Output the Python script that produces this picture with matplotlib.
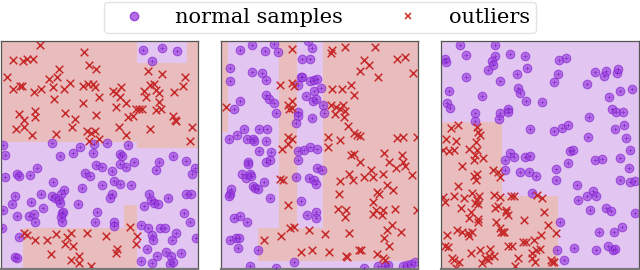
import numpy as np
import matplotlib
matplotlib.use('Agg')
import matplotlib.pyplot as plt
from matplotlib.patches import Rectangle
from matplotlib.lines import Line2D

# coordenadas (unidades arbitrarias, y para baixo)
# painel 1
normais_1 = [(156,310),(240,322),(220,340),(180,350),(282,312),(322,310),(386,316),(278,338),
    (8,314),(16,346),(362,342),(368,350),(402,366),(360,374),(380,382),(288,376),(306,382),(338,394),
    (110,386),(50,402),(58,410),(90,406),(14,412),(256,400),(270,408),(160,428),(308,436),(342,424),
    (360,432),(394,436),(246,444),(192,452),(184,462),(122,464),(46,468),(156,470),(166,476),(176,482),
    (180,490),(234,492),(36,494),(92,486),(128,506),(336,462),(330,474),(448,462),(470,392),(478,368),
    (520,350),(560,364),(586,384),(576,404),(454,482),(464,490),(476,494),(506,474),(432,500),
    (560,462),(574,462),(8,510),(52,530),(88,530),(102,524),(106,546),(186,520),(190,516),(184,532),
    (186,548),(290,516),(286,546),(342,548),(344,558),(552,520),(570,548),(446,564),(424,556),
    (480,566),(496,566),(530,580),(588,594),(458,586),(460,600),(518,602),(6,565),(56,592),(44,652),
    (52,656),(442,628),(472,648),(498,638),(514,650),(544,640),(424,664),(458,670),(512,672),(520,668),
    (430,30),(486,24),(532,32),(458,64)]
outliers_1 = [(120,15),(252,36),(38,60),(68,62),(80,57),(98,56),(178,86),(268,74),(288,86),
    (20,112),(148,116),(170,112),(210,128),(38,148),(60,138),(66,138),(102,157),(122,146),(160,142),
    (192,146),(250,138),(264,132),(278,132),(286,140),(162,178),(250,188),(298,172),(340,152),
    (350,158),(364,142),(362,170),(378,190),(348,200),(432,152),(440,172),(450,134),(462,132),
    (468,150),(478,158),(478,186),(524,155),(556,112),(550,138),(446,92),(486,102),(58,222),(72,240),
    (72,262),(48,268),(96,284),(104,212),(104,230),(196,218),(224,236),(216,262),(168,282),(288,226),
    (262,272),(272,278),(284,274),(268,302),(298,298),(358,262),(380,284),(386,230),(400,228),
    (408,208),(418,206),(426,206),(470,210),(484,208),(450,266),(520,228),(526,240),(530,244),
    (578,262),(572,302),(72,580),(80,585),(106,600),(140,602),(168,582),(202,592),(212,580),
    (196,612),(220,618),(260,580),(320,590),(152,642),(238,648),(212,660),(236,670),(272,680),
    (352,628),(350,640),(392,562),(412,590),(408,612)]
regioes_1 = [(3,3,595,305,1),(413,3,562,68,0),(413,305,595,325,1),(70,565,413,688,1),(372,497,413,565,1)]
limites_1 = (3,595)

# painel 2
normais_2 = [(112,16),(178,12),(150,32),(188,36),(76,30),(290,24),(280,4),(262,58),(284,58),(44,84),
    (110,96),(140,98),(154,120),(44,122),(258,110),(262,110),(250,134),(284,124),(298,120),(306,118),
    (298,152),(320,144),(154,164),(162,176),(176,190),(74,182),(56,206),(184,218),(272,168),(294,182),
    (304,178),(326,196),(328,220),(248,216),(250,228),(290,234),(242,250),(86,268),(132,268),
    (156,266),(66,284),(42,298),(96,298),(114,298),(118,304),(154,302),(132,334),(168,336),(248,332),
    (268,330),(284,320),(306,328),(248,360),(100,366),(98,372),(154,368),(164,360),(80,404),(92,416),
    (106,402),(108,410),(48,448),(44,462),(42,468),(114,440),(120,446),(128,448),(146,428),(166,476),
    (242,412),(282,414),(296,422),(302,432),(306,386),(322,392),(258,484),(276,526),(302,516),
    (304,534),(56,536),(76,528),(96,546),(46,602),(62,596),(72,596),(70,626),(130,632),(236,668),
    (184,684),(104,680),(448,684),(490,680),(510,680),(520,676),(566,678),(576,676),(590,672),(600,668)]
outliers_2 = [(230,28),(352,30),(350,40),(390,22),(482,22),(448,60),(464,74),(436,92),(490,112),
    (548,58),(570,50),(596,98),(196,134),(232,128),(238,138),(352,146),(382,148),(408,134),(418,164),
    (232,182),(218,196),(222,206),(232,204),(34,202),(350,196),(364,200),(376,206),(386,194),
    (392,214),(362,222),(388,230),(400,258),(418,278),(428,286),(436,288),(220,292),(230,296),
    (220,312),(200,326),(340,292),(340,320),(376,300),(548,294),(566,290),(606,292),(410,346),
    (418,342),(436,366),(508,340),(524,368),(544,384),(562,346),(566,368),(572,378),(196,418),
    (204,420),(404,404),(416,420),(448,412),(468,390),(474,412),(504,402),(592,406),(376,424),
    (516,436),(486,456),(492,464),(534,452),(374,464),(476,488),(220,496),(370,508),(394,512),
    (390,532),(474,522),(484,512),(504,512),(502,526),(542,508),(606,510),(226,566),(238,562),
    (282,572),(332,584),(402,580),(516,570),(532,556),(560,578),(508,594),(522,620),(198,590),
    (146,600),(258,636),(290,632),(342,636),(432,630),(438,630),(394,650),(398,652),(486,644),
    (506,654),(512,660)]
regioes_2 = [(18,3,40,275,1),(193,3,245,565,1),(325,3,610,665,1),(130,565,325,665,1)]
limites_2 = (18,610)

# painel 3
normais_3 = [(76,14),(180,14),(92,44),(180,48),(224,42),(270,48),(30,56),(32,66),(170,64),(174,74),
    (158,90),(246,102),(276,84),(92,110),(196,122),(372,60),(394,54),(370,102),(358,126),(480,96),
    (508,108),(512,94),(546,100),(548,88),(42,154),(142,168),(248,144),(256,158),(274,182),(320,186),
    (36,190),(46,204),(456,132),(522,170),(556,152),(592,148),(196,218),(218,206),(218,216),
    (192,236),(120,220),(120,244),(530,208),(542,216),(564,216),(462,232),(286,268),(358,272),
    (382,264),(400,254),(540,266),(566,256),(458,290),(572,294),(226,340),(238,352),(210,360),
    (270,352),(286,350),(404,332),(414,330),(400,370),(480,360),(500,358),(554,356),(584,330),
    (210,390),(256,398),(282,396),(302,410),(364,388),(364,422),(426,436),(582,386),(554,422),
    (586,426),(600,424),(290,460),(430,482),(456,470),(474,454),(482,470),(464,512),(512,504),
    (528,514),(600,520),(376,546),(492,578),(538,578),(560,562),(366,632),(416,624),(482,630),
    (520,620),(534,632),(540,628),(386,662)]
outliers_3 = [(48,264),(70,256),(126,262),(130,276),(136,286),(34,296),(64,302),(124,306),(24,330),
    (42,332),(58,330),(102,326),(126,330),(120,346),(144,356),(118,362),(82,378),(174,390),(190,398),
    (196,412),(118,410),(126,402),(124,422),(68,438),(112,460),(132,468),(126,480),(130,492),
    (176,466),(196,472),(24,472),(30,486),(56,470),(86,474),(120,490),(108,516),(78,506),(102,534),
    (130,538),(130,546),(228,470),(238,470),(306,466),(320,474),(180,506),(190,498),(214,512),
    (214,518),(218,526),(328,516),(268,542),(184,546),(196,566),(204,578),(66,572),(80,576),
    (100,580),(110,578),(102,590),(36,586),(30,620),(38,622),(198,578),(208,578),(218,620),
    (232,620),(264,606),(272,608),(298,602),(318,586),(340,556),(364,580),(108,640),(134,630),
    (164,628),(162,648),(178,650),(150,654),(158,660),(140,670),(52,654),(56,660),(72,668),
    (250,654),(292,640),(304,630),(316,628),(292,654),(300,666),(348,662),(352,666),(356,668),
    (240,680),(62,686)]
regioes_3 = [(18,247,200,688,1),(200,470,370,688,1)]
limites_3 = (18,612)

cor_fundo = ['#e2c6f1', '#e9bdbd']
cor_normal = '#9b3fe0'
cor_outlier = '#c62a2a'

fig = plt.figure(figsize=(6.4, 2.7), dpi=100)
posicoes = [(1, 197), (221, 197), (441, 198)]
paineis = [(normais_1, outliers_1, regioes_1, limites_1),
           (normais_2, outliers_2, regioes_2, limites_2),
           (normais_3, outliers_3, regioes_3, limites_3)]

for (x0, w), (normais, outliers, regioes, lim) in zip(posicoes, paineis):
    ax = fig.add_axes([x0 / 640, 1 / 270, w / 640, 228 / 270])
    ax.set_facecolor(cor_fundo[0])
    for (xa, ya, xb, yb, c) in regioes:
        ax.add_patch(Rectangle((xa, ya), xb - xa, yb - ya, facecolor=cor_fundo[c], edgecolor='none', zorder=0))
    n = np.array(normais)
    o = np.array(outliers)
    ax.scatter(n[:, 0], n[:, 1], s=38, facecolor=cor_normal, edgecolor='#8424d0', alpha=0.65, linewidth=0.8, zorder=2)
    ax.scatter(n[:, 0], n[:, 1], s=9, marker='+', color='#7a1fc4', alpha=0.7, linewidth=0.6, zorder=3)
    ax.scatter(o[:, 0], o[:, 1], s=30, marker='x', color=cor_outlier, linewidth=1.1, zorder=2)
    ax.set_xlim(lim[0], lim[1])
    ax.set_ylim(688, 3)
    ax.set_xticks([])
    ax.set_yticks([])
    for sp in ax.spines.values():
        sp.set_color('#555555')
        sp.set_linewidth(0.9)
    ax.spines['bottom'].set_linewidth(1.6)
    ax.spines['bottom'].set_color('#777777')

handles = [Line2D([], [], linestyle='none', marker='o', markersize=6, markerfacecolor=cor_normal,
                  markeredgecolor='#8424d0', alpha=0.75),
           Line2D([], [], linestyle='none', marker='x', markersize=5, color=cor_outlier, markeredgewidth=1.1)]
fig.legend(handles, ['normal samples', 'outliers'], loc='upper center', bbox_to_anchor=(0.5, 1.0),
           ncol=2, prop={'family': 'DejaVu Serif', 'size': 15}, handletextpad=0.8, columnspacing=2.0,
           handlelength=2.3, borderpad=0.3, borderaxespad=0.08, frameon=True, fancybox=True,
           edgecolor='#dddddd')

fig.savefig('out.png', dpi=100)
